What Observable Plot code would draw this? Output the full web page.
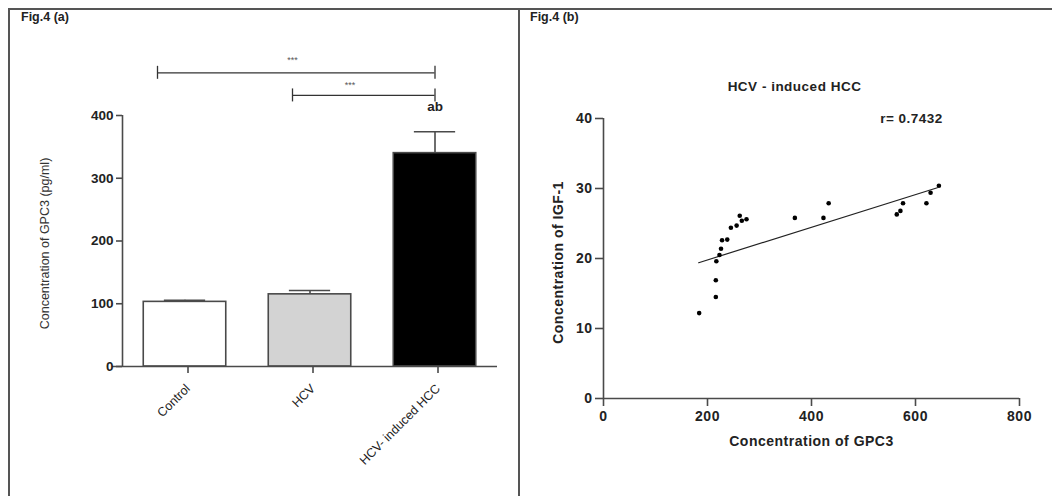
<!DOCTYPE html>
<html><head><meta charset="utf-8">
<script src="https://cdn.jsdelivr.net/npm/d3@7"></script>
<script src="https://cdn.jsdelivr.net/npm/@observablehq/plot@0.6"></script>
<style>
body{margin:0;background:#fff;font-family:"Liberation Sans",Arial,sans-serif;}
#wrap{position:relative;width:1052px;height:496px;overflow:hidden;background:#fff}
.line{position:absolute;background:#555}
.fig{position:absolute;font:bold 12.5px "Liberation Sans",Arial,sans-serif;color:#222;white-space:nowrap}
#a,#b{position:absolute;top:0}
#a{left:0}
#b{left:519px}
#a svg,#b svg{overflow:visible;max-width:none}
#b svg text{letter-spacing:0.5px}
</style></head><body>
<div id="wrap">
  <div class="line" style="left:8px;top:8px;width:1044px;height:2px"></div>
  <div class="line" style="left:8px;top:8px;width:2px;height:488px"></div>
  <div class="line" style="left:518px;top:8px;width:2px;height:488px"></div>
  <div class="fig" style="left:21px;top:10px">Fig.4 (a)</div>
  <div class="fig" style="left:530px;top:10px">Fig.4 (b)</div>
  <div id="a"></div>
  <div id="b"></div>
</div>
<script>
// ---------- Panel (a) data ----------
const categories = ["Control", "HCV", "HCV- induced HCC"];
const means = [103, 115, 340];
const errUpper = [105.5, 121, 374];
const barFills = ["#ffffff", "#d3d3d3", "#000000"];
const yTicksA = [0, 100, 200, 300, 400];
const bracketFrom = [-0.22, 0.86];
const bracketTo = [2, 2];
const bracketY = [468, 432];
const starX = [0.86, 1.32];
const starY = [488, 449];
const starText = ["***", "***"];
const letterText = "ab";
const yLabelA = "Concentration of GPC3 (pg/ml)";

// ---------- Panel (b) data ----------
const gpc3 = [184, 216, 216, 217, 223, 226, 228, 238, 245, 256, 262, 266, 275, 368, 423, 433, 564, 571, 576, 621, 629, 645];
const igf1 = [12.2, 14.5, 16.9, 19.6, 20.5, 21.4, 22.6, 22.7, 24.4, 24.7, 26.1, 25.4, 25.6, 25.8, 25.8, 27.9, 26.3, 26.8, 27.9, 27.9, 29.4, 30.4];
const fitX = [183, 642];
const fitY = [19.4, 30.1];
const xTicksB = [0, 200, 400, 600, 800];
const yTicksB = [0, 10, 20, 30, 40];
const titleB = "HCV - induced HCC";
const rText = "r= 0.7432";
const xLabelB = "Concentration of GPC3";
const yLabelB = "Concentration of IGF-1";

const FONT = "'Liberation Sans', Arial, sans-serif";
const AX = "#4a4a4a";

// ---------- build (a) ----------
const bars = categories.map((c, i) => ({i, c, mean: means[i], upper: errUpper[i], fill: barFills[i]}));
const brackets = bracketY.map((y, k) => ({from: bracketFrom[k], to: bracketTo[k], y}));
const bracketEnds = brackets.flatMap(b => [{x: b.from, y: b.y}, {x: b.to, y: b.y}]);
const stars = starX.map((x, k) => ({x, y: starY[k], text: starText[k]}));

const plotA = Plot.plot({
  width: 519, height: 496,
  marginLeft: 122, marginRight: 22, marginTop: 115, marginBottom: 130,
  x: {type: "linear", domain: [-0.5, 2.5]},
  y: {domain: [0, 400]},
  color: {type: "identity"},
  style: {fontFamily: FONT, color: "#222", background: "transparent", overflow: "visible"},
  marks: [
    Plot.rectY(bars, {x1: d => d.i - 0.33, x2: d => d.i + 0.33, y1: 0, y2: "mean", fill: "fill", stroke: AX, strokeWidth: 1.6}),
    Plot.ruleX(bars, {x: "i", y1: "mean", y2: "upper", stroke: AX, strokeWidth: 1.6}),
    Plot.ruleY(bars, {y: "upper", x1: d => d.i - 0.165, x2: d => d.i + 0.165, stroke: AX, strokeWidth: 1.6}),
    Plot.ruleX([-0.5], {stroke: AX, strokeWidth: 1.6}),
    Plot.ruleY([0], {stroke: AX, strokeWidth: 1.6, insetLeft: -10}),
    Plot.axisY({ticks: yTicksA, tickSize: 6, tickPadding: 3, fontWeight: "bold", fontSize: 13.5, label: null, stroke: AX, strokeWidth: 1.6}),
    Plot.axisX({ticks: [0, 1, 2], tickFormat: i => categories[i], tickRotate: -45, tickSize: 7, tickPadding: 13, fontSize: 12.5, label: null, stroke: AX, strokeWidth: 1.6, dx: 3}),
    Plot.text([yLabelA], {frameAnchor: "left", textAnchor: "middle", rotate: -90, dx: -78, dy: 2.5, fontSize: 12.5, fill: "#333"}),
    Plot.ruleY(brackets, {y: "y", x1: "from", x2: "to", stroke: "#333", strokeWidth: 1.3}),
    Plot.ruleX(bracketEnds, {x: "x", y1: "y", y2: "y", insetTop: -6.5, insetBottom: -6.5, stroke: "#333", strokeWidth: 1.3}),
    Plot.text(stars, {x: "x", y: "y", text: "text", fontSize: 9, fill: "#555"}),
    Plot.text([letterText], {x: 2, y: errUpper[2], dy: -25, fontSize: 13.5, fontWeight: "bold", fill: "#222"})
  ]
});
document.getElementById("a").append(plotA);

// ---------- build (b) ----------
const pts = gpc3.map((x, i) => ({x, y: igf1[i]}));
const fit = fitX.map((x, i) => ({x, y: fitY[i]}));

const plotB = Plot.plot({
  width: 533, height: 496,
  marginLeft: 84, marginRight: 33, marginTop: 118, marginBottom: 98,
  x: {domain: [0, 800]},
  y: {domain: [0, 40]},
  style: {fontFamily: FONT, color: "#222", background: "transparent", overflow: "visible"},
  marks: [
    Plot.ruleX([0], {stroke: AX, strokeWidth: 1.6}),
    Plot.ruleY([0], {stroke: AX, strokeWidth: 1.6}),
    Plot.axisY({ticks: yTicksB, tickSize: 8, tickPadding: 3, fontWeight: "bold", fontSize: 14, label: null, stroke: AX, strokeWidth: 1.6}),
    Plot.axisX({ticks: xTicksB, tickSize: 8, tickPadding: 5, fontWeight: "bold", fontSize: 14, label: null, stroke: AX, strokeWidth: 1.6}),
    Plot.line(fit, {x: "x", y: "y", stroke: "#222", strokeWidth: 1.2}),
    Plot.dot(pts, {x: "x", y: "y", r: 2.3, fill: "#000", stroke: "none"}),
    Plot.text([titleB], {frameAnchor: "top", dx: -17, dy: -37, fontSize: 13.5, fontWeight: "bold", fill: "#222"}),
    Plot.text([rText], {frameAnchor: "top-right", textAnchor: "middle", dx: -108, dy: -5, fontSize: 13.5, fontWeight: "bold", fill: "#222"}),
    Plot.text([xLabelB], {frameAnchor: "bottom", dy: 47, fontSize: 14, fontWeight: "bold", fill: "#222"}),
    Plot.text([yLabelB], {frameAnchor: "left", textAnchor: "middle", rotate: -90, dx: -45, dy: 4, fontSize: 14, fontWeight: "bold", fill: "#222"})
  ]
});
document.getElementById("b").append(plotB);
</script>
</body></html>
